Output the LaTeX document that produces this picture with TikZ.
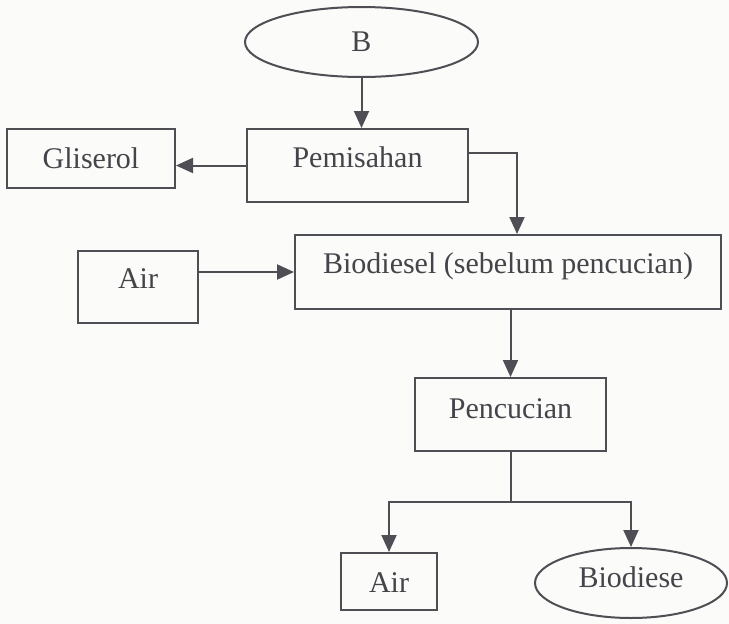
\documentclass[tikz,border=0pt]{standalone}
\usepackage{fontspec}
\setmainfont{Liberation Serif}
\usepackage{xcolor}
\usepackage{tikz}
\usetikzlibrary{arrows.meta, positioning, shapes.geometric}
\definecolor{inkgray}{RGB}{78,78,84}
\definecolor{textgray}{RGB}{68,68,74}
\definecolor{paper}{RGB}{251,251,249}

\begin{document}
\begin{tikzpicture}[x=1pt, y=-1pt,
  every node/.style={font=\fontsize{30}{35}\selectfont, text=textgray},
  box/.style={draw=inkgray, line width=2pt, rectangle, inner sep=0pt},
  oval/.style={draw=inkgray, line width=2pt, ellipse, inner sep=0pt},
  flow/.style={draw=inkgray, line width=2pt, -{Triangle[length=17pt, width=15pt]}}]
\fill[paper] (0,0) rectangle (729,624);
\useasboundingbox (0,0) rectangle (729,624);
\node[oval, minimum width=233pt, minimum height=70pt] (b) at (361.5,42) {B};
\node[box, minimum width=221pt, text height=38pt, text depth=35pt] (pemisahan) at (357.5,165.5) {Pemisahan};
\node[box, minimum width=168pt, text height=39pt, text depth=20pt] (gliserol) at (91,158.5) {Gliserol};
\node[box, minimum width=120pt, text height=37pt, text depth=35pt] (airin) at (138,287) {Air};
\node[box, minimum width=426pt, text height=38pt, text depth=36pt] (biodiesel) at (508,272) {Biodiesel (sebelum pencucian)};
\node[box, minimum width=191pt, text height=40pt, text depth=33pt] (pencucian) at (510.5,414.5) {Pencucian};
\node[box, minimum width=96pt, text height=39pt, text depth=18pt] (airout) at (389,581.5) {Air};
\node[oval, minimum width=192pt, minimum height=70pt, text height=19pt, text depth=11pt] (biodiese) at (631,583) {Biodiese};
\draw[flow] (b.south) -- (b.south |- pemisahan.north);
\draw[flow] (pemisahan.west) -- (pemisahan.west -| gliserol.east);
\draw[flow] ([yshift=12.5pt]pemisahan.east) -| ([xshift=9pt]biodiesel.north);
\draw[flow] (biodiesel.west -| airin.east) -- (biodiesel.west);
\draw[flow] (pencucian.north |- biodiesel.south) -- (pencucian.north);
\draw[inkgray, line width=2pt] (pencucian.south) -- ++(0,50) coordinate (split);
\draw[flow] (split) -| (airout.north);
\draw[flow] (split) -| (biodiese.north);
\end{tikzpicture}
\end{document}
